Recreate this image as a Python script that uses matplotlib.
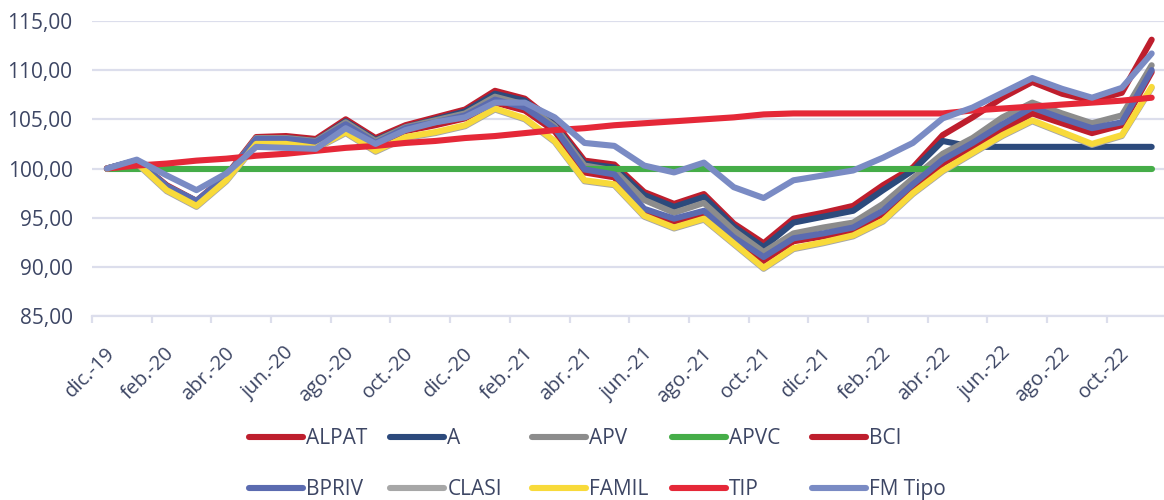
import numpy as np
import matplotlib.pyplot as plt
from matplotlib.transforms import ScaledTranslation

plt.rcParams['font.family'] = ['Open Sans', 'DejaVu Sans']

# monthly index values, dic-19 .. nov-22
ALPAT = [100.0, 100.8, 98.3, 96.7, 99.3, 103.2, 103.3, 103.0, 105.0, 103.1, 104.4, 105.2,
         106.0, 107.9, 107.1, 104.7, 100.8, 100.4, 97.6, 96.4, 97.4, 94.4, 92.4, 94.9,
         95.5, 96.2, 98.3, 100.1, 103.4, 105.2, 107.2, 108.8, 107.6, 106.9, 107.7, 113.1]
A = [100.0, 100.8, 98.2, 96.6, 99.2, 103.0, 103.1, 102.8, 104.8, 102.9, 104.2, 105.0,
     105.8, 107.6, 106.9, 104.4, 100.5, 100.1, 97.3, 96.1, 97.1, 94.1, 92.0, 94.5,
     95.1, 95.7, 97.8, 99.8, 102.8, 102.2, 102.2, 102.2, 102.2, 102.2, 102.2, 102.2]
APV = [100.0, 100.8, 98.2, 96.7, 99.2, 103.1, 103.1, 102.8, 104.7, 102.8, 104.2, 104.9,
       105.6, 107.3, 106.5, 104.3, 100.3, 99.8, 96.8, 95.5, 96.5, 93.7, 91.5, 93.4,
       94.0, 94.5, 96.4, 99.0, 101.5, 103.1, 105.2, 106.7, 105.6, 104.6, 105.4, 110.5]
APVC = [100.0] * 36
BCI = [100.0, 100.7, 98.0, 96.5, 99.0, 102.8, 102.8, 102.5, 104.3, 102.4, 103.8, 104.4,
       105.1, 106.7, 105.9, 103.8, 99.6, 99.1, 95.6, 94.6, 95.4, 92.7, 90.6, 92.6,
       93.1, 93.7, 95.4, 98.1, 100.5, 102.2, 103.9, 105.6, 104.6, 103.6, 104.4, 109.8]
BPRIV = [100.0, 100.8, 98.2, 96.7, 99.2, 103.0, 103.0, 102.7, 104.5, 102.6, 104.1, 104.7,
         105.4, 107.0, 106.2, 104.1, 99.9, 99.4, 95.9, 94.9, 95.7, 93.0, 91.0, 92.9,
         93.4, 94.0, 95.7, 98.4, 100.9, 102.6, 104.5, 106.2, 105.1, 104.1, 104.7, 110.0]
CLASI = [100.0, 100.5, 97.7, 96.1, 98.7, 102.4, 102.4, 102.0, 103.6, 101.7, 103.1, 103.6,
         104.3, 106.0, 105.0, 102.7, 98.7, 98.3, 95.1, 93.9, 94.8, 92.3, 89.8, 91.8,
         92.4, 93.1, 94.6, 97.4, 99.7, 101.5, 103.3, 104.8, 103.6, 102.4, 103.3, 108.2]
FAMIL = [100.0, 100.6, 97.8, 96.2, 98.8, 102.5, 102.5, 102.1, 103.7, 101.8, 103.2, 103.7,
         104.4, 106.1, 105.1, 102.8, 98.8, 98.4, 95.2, 94.0, 94.9, 92.4, 89.9, 91.9,
         92.5, 93.2, 94.7, 97.5, 99.8, 101.6, 103.4, 104.9, 103.7, 102.5, 103.4, 108.3]
TIP = [100.0, 100.3, 100.5, 100.8, 101.0, 101.3, 101.5, 101.8, 102.1, 102.3, 102.6, 102.8,
       103.1, 103.3, 103.6, 103.9, 104.1, 104.4, 104.6, 104.8, 105.0, 105.2, 105.5, 105.6,
       105.6, 105.6, 105.6, 105.6, 105.6, 105.9, 106.1, 106.3, 106.5, 106.7, 106.9, 107.2]
FM_TIPO = [100.0, 100.9, 99.3, 97.8, 99.5, 102.2, 102.1, 102.0, 104.1, 102.5, 103.9, 104.7,
           105.2, 106.7, 106.7, 105.2, 102.6, 102.3, 100.3, 99.6, 100.6, 98.1, 97.0, 98.8,
           99.3, 99.8, 101.1, 102.6, 105.1, 106.2, 107.7, 109.2, 108.1, 107.2, 108.2, 111.7]

month_labels = ['dic.-19', 'feb.-20', 'abr.-20', 'jun.-20', 'ago.-20', 'oct.-20',
                'dic.-20', 'feb.-21', 'abr.-21', 'jun.-21', 'ago.-21', 'oct.-21',
                'dic.-21', 'feb.-22', 'abr.-22', 'jun.-22', 'ago.-22', 'oct.-22']

series = [('ALPAT', ALPAT, '#BE1E2D'), ('A', A, '#2C4A7C'), ('APV', APV, '#8C8C8C'),
          ('APVC', APVC, '#45AD48'), ('BCI', BCI, '#BE1E2D'), ('BPRIV', BPRIV, '#5B6BB0'),
          ('CLASI', CLASI, '#A7A7A7'), ('FAMIL', FAMIL, '#F8DA3A'), ('TIP', TIP, '#E52838'),
          ('FM Tipo', FM_TIPO, '#7A8BC4')]

txt = '#3D4664'
grid_c = '#DCDEEC'

fig = plt.figure(figsize=(11.64, 5.0), dpi=100)
ax = fig.add_axes([92 / 1164, 0.368, 1074.6 / 1164, 0.59])

x = np.arange(36)
lines = []
for name, vals, col in series:
    ln, = ax.plot(x, vals, color=col, lw=4.4, label=name,
                  solid_capstyle='round', solid_joinstyle='round')
    lines.append(ln)

ax.set_xlim(-0.5, 35.5)
ax.set_ylim(85, 115)
ax.set_yticks(np.arange(85, 116, 5))
ax.set_yticklabels([f'{v:.2f}'.replace('.', ',') for v in np.arange(85, 116, 5)])
ax.tick_params(axis='y', length=0, pad=14, labelsize=15, labelcolor=txt)
ax.grid(axis='y', color=grid_c, lw=1.6)
ax.set_axisbelow(True)
for s in ['top', 'right', 'left']:
    ax.spines[s].set_visible(False)
ax.spines['bottom'].set_color(grid_c)
ax.spines['bottom'].set_linewidth(1.6)

ax.set_xticks(np.arange(-0.5, 34, 2))
ax.set_xticklabels(month_labels, rotation=45, ha='right', va='center',
                   rotation_mode='anchor')
ax.tick_params(axis='x', length=5, width=1.6, color=grid_c, pad=20,
               labelsize=14.5, labelcolor=txt)
off = ScaledTranslation(20 / 100, 0, fig.dpi_scale_trans)
for lab in ax.get_xticklabels():
    lab.set_transform(lab.get_transform() + off)

# legend: 5 equal columns, 2 rows
col_x = [249, 390, 532, 672, 812]
for c in range(5):
    fig.legend([lines[c], lines[c + 5]], [series[c][0], series[c + 5][0]],
               loc='upper left', bbox_to_anchor=(col_x[c] / 1164, 1 - 428 / 500),
               frameon=False, fontsize=15, labelcolor=txt, handlelength=2.6,
               handletextpad=0.15, borderpad=0, borderaxespad=0, labelspacing=1.45)

fig.savefig('out.png', dpi=100)
